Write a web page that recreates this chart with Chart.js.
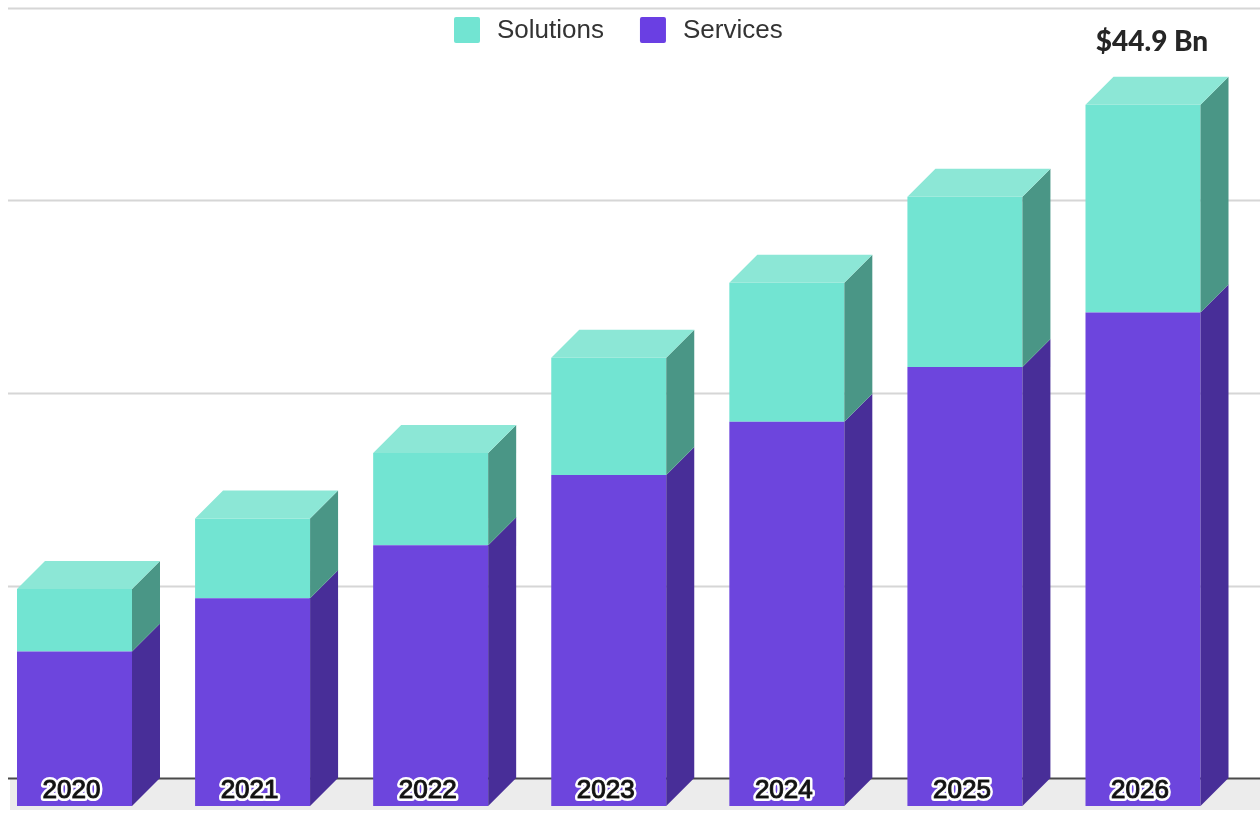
<!DOCTYPE html>
<html><head><meta charset="utf-8">
<script src="https://cdn.jsdelivr.net/npm/chart.js@4.4.1/dist/chart.umd.min.js"></script>
<style>html,body{margin:0;padding:0;background:#fff;}#wrap{width:1260px;height:814px;position:relative;}</style>
</head><body><div id="wrap"><canvas id="c" width="1260" height="814"></canvas></div>
<script>
const years = ['2020','2021','2022','2023','2024','2025','2026'];
const services = [9.9, 13.3, 16.7, 21.2, 24.6, 28.1, 31.6];
const solutions = [4.0, 5.1, 5.9, 7.5, 8.9, 10.9, 13.3];
const gridStep = 12.325;
const yMax = 49.3;
const legendOrder = ['Solutions', 'Services'];

const DEPTH = 28;
const colors = {
  Services: {front: '#6d45dd', side: '#482e98', top: '#7a55e0', legend: '#6a3fe3'},
  Solutions: {front: '#72e4d2', side: '#4a9686', top: '#8ce7d6', legend: '#72e4d2'}
};

const threeD = {
  id: 'threeD',
  beforeDatasetsDraw(chart) {
    const ctx = chart.ctx, y = chart.scales.y;
    ctx.save();
    const zeroBack = y.getPixelForValue(0) - DEPTH;
    ctx.fillStyle = '#ececec';
    ctx.fillRect(10, zeroBack, 1250, 810 - zeroBack);
    const ticks = (y.ticks && y.ticks.length) ? y.ticks.map(t => t.value) : [];
    if (!ticks.length) for (let v = 0; v <= yMax + 1e-6; v += gridStep) ticks.push(v);
    ticks.forEach(v => {
      const py = Math.round(y.getPixelForValue(v) - DEPTH) + 0.5;
      ctx.beginPath();
      ctx.moveTo(8, py); ctx.lineTo(1260, py);
      if (v === 0) { ctx.strokeStyle = '#4a4a4a'; ctx.lineWidth = 2; }
      else { ctx.strokeStyle = '#d6d6d6'; ctx.lineWidth = 2; }
      ctx.stroke();
    });
    ctx.restore();
  },
  afterDatasetsDraw(chart) {
    const ctx = chart.ctx;
    ctx.save();
    const n = chart.data.datasets.length;
    chart.data.datasets.forEach((ds, di) => {
      const meta = chart.getDatasetMeta(di);
      const c = colors[ds.label];
      meta.data.forEach(el => {
        const p = el.getProps(['x', 'y', 'base', 'width'], true);
        const left = p.x - p.width / 2, right = p.x + p.width / 2;
        ctx.fillStyle = c.side;
        ctx.beginPath();
        ctx.moveTo(right, p.y);
        ctx.lineTo(right + DEPTH, p.y - DEPTH);
        ctx.lineTo(right + DEPTH, p.base - DEPTH);
        ctx.lineTo(right, p.base);
        ctx.closePath(); ctx.fill();
        if (di === n - 1) {
          ctx.fillStyle = c.top;
          ctx.beginPath();
          ctx.moveTo(left, p.y);
          ctx.lineTo(left + DEPTH, p.y - DEPTH);
          ctx.lineTo(right + DEPTH, p.y - DEPTH);
          ctx.lineTo(right, p.y);
          ctx.closePath(); ctx.fill();
        }
      });
    });
    // year labels
    const meta0 = chart.getDatasetMeta(0);
    ctx.font = '26px "Liberation Sans", Arial, sans-serif';
    ctx.textAlign = 'center'; ctx.textBaseline = 'middle';
    ctx.lineJoin = 'round';
    meta0.data.forEach((el, i) => {
      const p = el.getProps(['x', 'base'], true);
      const ty = p.base - 15;
      ctx.strokeStyle = '#ffffff'; ctx.lineWidth = 6;
      ctx.strokeText(chart.data.labels[i], p.x - 3, ty);
      ctx.strokeStyle = '#333333'; ctx.lineWidth = 1.2;
      ctx.strokeText(chart.data.labels[i], p.x - 3, ty);
      ctx.fillStyle = '#111111';
      ctx.fillText(chart.data.labels[i], p.x - 3, ty);
    });
    // total label above last bar
    const last = years.length - 1;
    const total = services[last] + solutions[last];
    const topMeta = chart.getDatasetMeta(n - 1);
    const pt = topMeta.data[last].getProps(['x', 'y'], true);
    ctx.font = '900 28px Lato, "Open Sans", sans-serif';
    ctx.fillStyle = '#262626';
    ctx.fillText('$' + total.toFixed(1) + ' Bn', pt.x + 9, 42);
    // legend
    ctx.font = '26px "Liberation Sans", Arial, sans-serif';
    ctx.textAlign = 'left';
    const items = legendOrder.map(l => ({label: l, color: colors[l].legend}));
    const gap = 36, box = 26, tgap = 17;
    const widths = items.map(it => box + tgap + ctx.measureText(it.label).width);
    let x = 454;
    items.forEach((it, i) => {
      ctx.fillStyle = it.color;
      ctx.beginPath();
      ctx.roundRect(x, 17, box, box, 2);
      ctx.fill();
      ctx.fillStyle = '#333333';
      ctx.fillText(it.label, x + box + tgap, 31);
      x += widths[i] + gap;
    });
    ctx.restore();
  }
};

new Chart(document.getElementById('c'), {
  type: 'bar',
  data: {
    labels: years,
    datasets: [
      {label: 'Services', data: services, backgroundColor: colors.Services.front, clip: false},
      {label: 'Solutions', data: solutions, backgroundColor: colors.Solutions.front, clip: false}
    ]
  },
  options: {
    responsive: false,
    animation: false,
    layout: {padding: {left: 74.5, right: 117, top: 36, bottom: 8}},
    datasets: {bar: {barThickness: 115, borderWidth: 0, inflateAmount: 0}},
    plugins: {legend: {display: false}, tooltip: {enabled: false}},
    scales: {
      x: {type: 'category', offset: false, stacked: true, display: false},
      y: {stacked: true, min: 0, max: yMax, display: false, ticks: {stepSize: gridStep}}
    }
  },
  plugins: [threeD]
});
</script></body></html>
